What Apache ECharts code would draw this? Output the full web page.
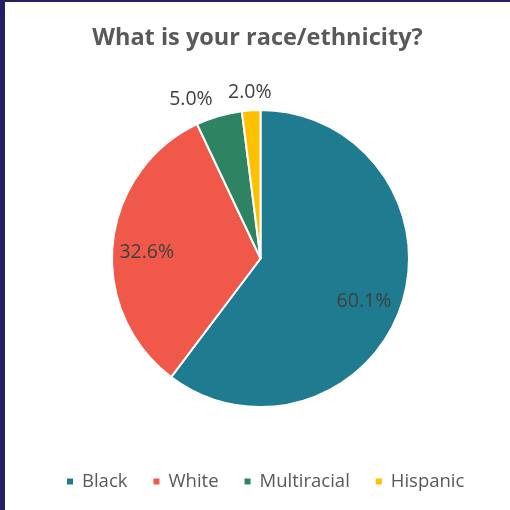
<!DOCTYPE html>
<html><head><meta charset="utf-8">
<script src="https://cdn.jsdelivr.net/npm/echarts@6/dist/echarts.min.js"></script>
<style>
html,body{margin:0;padding:0;background:#fff;}
#frame{position:absolute;left:0;top:0;width:510px;height:510px;background:#231f68;}
#c{position:absolute;left:5px;top:2px;width:505px;height:508px;background:#fff;}
</style>
</head><body>
<div id="frame"></div>
<div id="c"></div>
<script>
const titleText = 'What is your race/ethnicity?';
const categories = ['Black', 'White', 'Multiracial', 'Hispanic'];
const values = [60.1, 32.6, 5.0, 2.0];
const colors = ['#1F7B8F', '#F0584A', '#2E8462', '#FFC000'];
const labelInside = [true, true, false, false];

const chart = echarts.init(document.getElementById('c'));
const CX = 255.5, CY = 256.5, R = 148.5;
const fmt = v => '{v|' + v.value.toFixed(1) + '%}';
const labelFont = {fontFamily: 'Open Sans', fontSize: 19.5, color: '#404040'};
const ghost = 'rgba(0,0,0,0)';
const labelPads = [[14, 10, 0, 0], [12, 0, 0, 0], [8, 44, 0, 0], [7, 0, 0, 0]];

function lbl(i, show) {
  return {
    show: show, position: 'inside', formatter: fmt,
    rich: {v: Object.assign({padding: labelPads[i]}, labelFont)}
  };
}

chart.setOption({
  animation: false,
  title: {
    text: titleText, left: 'center', top: 19,
    textStyle: {fontFamily: 'Open Sans', fontWeight: 'bold', fontSize: 23.5, color: '#595959'}
  },
  legend: {
    bottom: 14, left: 55, icon: 'rect', itemWidth: 8, itemHeight: 8, itemGap: 24,
    textStyle: {fontFamily: 'Open Sans', fontSize: 18.5, color: '#595959', padding: [0, 0, 0, 3]},
    data: categories
  },
  series: [{
    type: 'pie',
    center: [CX, CY],
    radius: [0, R],
    startAngle: 90,
    clockwise: true,
    itemStyle: {borderColor: '#fff', borderWidth: 2},
    label: {show: false},
    labelLine: {show: false},
    data: categories.map((n, i) => ({name: n, value: values[i], itemStyle: {color: colors[i]}}))
  }, {
    // label carrier for large slices (inside, at 0.75 R)
    type: 'pie', silent: true, legendHoverLink: false,
    center: [CX, CY],
    radius: [0, R * 1.5],
    startAngle: 90, clockwise: true,
    avoidLabelOverlap: false,
    itemStyle: {color: ghost, borderWidth: 0},
    labelLine: {show: false},
    data: categories.map((n, i) => ({name: n, value: values[i], label: lbl(i, labelInside[i])}))
  }, {
    // label carrier for small slices (outside the pie)
    type: 'pie', silent: true, legendHoverLink: false,
    center: [CX, CY],
    radius: [R * 1.05, R * 1.2],
    startAngle: 90, clockwise: true,
    avoidLabelOverlap: false,
    itemStyle: {color: ghost, borderWidth: 0},
    labelLine: {show: false},
    data: categories.map((n, i) => ({name: n, value: values[i], label: lbl(i, !labelInside[i])}))
  }]
});
</script>
</body></html>
